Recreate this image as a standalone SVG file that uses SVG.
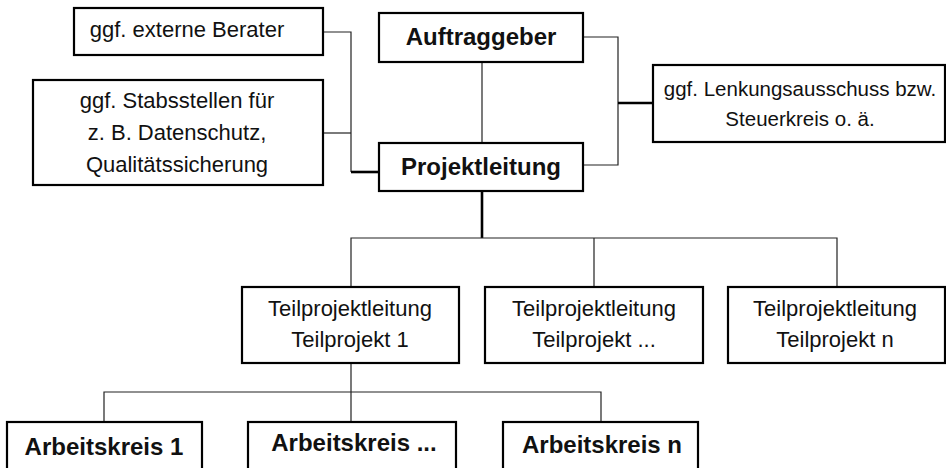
<svg xmlns="http://www.w3.org/2000/svg" width="946" height="468" viewBox="0 0 946 468">
<style>
.box{fill:#fff;stroke:#000;stroke-width:2.2}
.t{font-family:"Liberation Sans",Arial,sans-serif;font-size:22px;fill:#111;text-anchor:middle}
.s{font-size:20.5px}
.b{font-family:"Liberation Sans",Arial,sans-serif;font-size:24px;font-weight:bold;fill:#111;text-anchor:middle}
.thin{fill:none;stroke:#222;stroke-width:1.2}
.thick{fill:none;stroke:#000;stroke-width:2.6}
</style>
<rect width="946" height="468" fill="#fff"/>
<g id="connectors">
<path class="thin" d="M482 62V143"/>
<path class="thin" d="M583 37H618V165H583"/>
<path class="thick" d="M618 103H653"/>
<path class="thin" d="M323 32H351V172"/>
<path class="thin" d="M323 133H351"/>
<path class="thick" d="M351 172H379"/>
<path class="thick" d="M482 191V238"/>
<path class="thin" d="M351 287V238H837V287M594 238V287"/>
<path class="thin" d="M351 363V392M104 422V392H601V422M351 392V422"/>
</g>
<g id="externe-berater">
<rect class="box" x="74" y="8" width="249" height="47"/>
<text class="t" x="187" y="37">ggf. externe Berater</text>
</g>
<g id="stabsstellen">
<rect class="box" x="33" y="80" width="290" height="105"/>
<text class="t" x="177" y="108">ggf. Stabsstellen für</text>
<text class="t" x="177" y="140">z. B. Datenschutz,</text>
<text class="t" x="177" y="172">Qualitätssicherung</text>
</g>
<g id="auftraggeber">
<rect class="box" x="379" y="13" width="204" height="49"/>
<text class="b" x="481" y="45">Auftraggeber</text>
</g>
<g id="projektleitung">
<rect class="box" x="379" y="143" width="204" height="48"/>
<text class="b" x="481" y="175">Projektleitung</text>
</g>
<g id="lenkungsausschuss">
<rect class="box" x="653" y="65" width="292" height="77"/>
<text class="t s" x="800" y="96">ggf. Lenkungsausschuss bzw.</text>
<text class="t s" x="800" y="126">Steuerkreis o. ä.</text>
</g>
<g id="teilprojekt-1">
<rect class="box" x="242" y="287" width="217" height="76"/>
<text class="t" x="350" y="316">Teilprojektleitung</text>
<text class="t" x="350" y="347">Teilprojekt 1</text>
</g>
<g id="teilprojekt-mid">
<rect class="box" x="485" y="287" width="218" height="76"/>
<text class="t" x="594" y="316">Teilprojektleitung</text>
<text class="t" x="594" y="347">Teilprojekt ...</text>
</g>
<g id="teilprojekt-n">
<rect class="box" x="728" y="287" width="217" height="76"/>
<text class="t" x="835" y="316">Teilprojektleitung</text>
<text class="t" x="835" y="347">Teilprojekt n</text>
</g>
<g id="arbeitskreis-1">
<rect class="box" x="7" y="422" width="195" height="60"/>
<text class="b" x="104" y="455">Arbeitskreis 1</text>
</g>
<g id="arbeitskreis-mid">
<rect class="box" x="248" y="422" width="208" height="60"/>
<text class="b" x="354" y="451">Arbeitskreis ...</text>
</g>
<g id="arbeitskreis-n">
<rect class="box" x="503" y="422" width="195" height="60"/>
<text class="b" x="602" y="453">Arbeitskreis n</text>
</g>
</svg>
